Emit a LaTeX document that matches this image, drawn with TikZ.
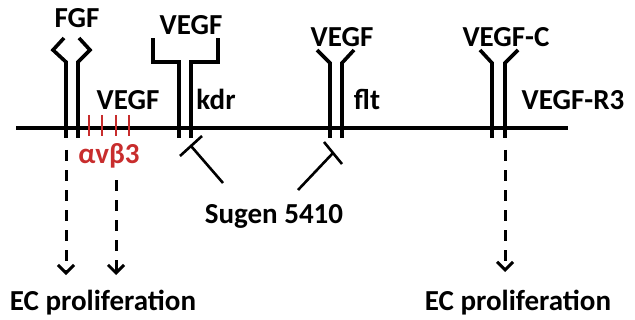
\documentclass[tikz,border=0pt]{standalone}
\usepackage{fontspec}
\setmainfont{Carlito}
\usetikzlibrary{arrows.meta}
\definecolor{intred}{RGB}{200,45,45}

\begin{document}
\begin{tikzpicture}[x=0.5pt,y=-0.5pt,
  lbl/.style={font=\bfseries\fontsize{14.5}{17}\selectfont,anchor=base,inner sep=0pt},
  rcp/.style={line width=1.8pt},
  sig/.style={line width=1.5pt,dash pattern=on 5.5pt off 4.5pt,
    -{Straight Barb[length=4pt,width=8pt]}},
  inh/.style={line width=1.3pt}]
  \useasboundingbox (0,0) rectangle (635,320);

  % 細胞膜
  \draw[rcp] (16,128)--(568,128);

  % FGF受容体
  \draw[rcp] (66,138)--(66,62)--(53,50)--(64,38);
  \draw[rcp] (78,138)--(78,62)--(90,50)--(79,38);
  \node[lbl] (fgf) at (77,28) {FGF};

  % インテグリン αvβ3
  \foreach \x in {89,102,116,129}
    \draw[intred,line width=1.4pt] (\x,115)--(\x,136);
  \node[lbl] (vegfA) at (128,110) {VEGF};
  \node[lbl,intred] (avb3) at (109,163) {αvβ3};

  % kdr
  \draw[rcp] (179,138)--(179,62)--(153,62)--(153,38);
  \draw[rcp] (191,138)--(191,62)--(218,62)--(218,38);
  \node[lbl] (vegfB) at (191,35) {VEGF};
  \node[lbl] (kdr) at (216,110) {kdr};

  % flt
  \draw[rcp] (330,138)--(330,63)--(317,50);
  \draw[rcp] (342,138)--(342,63)--(354,50);
  \node[lbl] (vegfC) at (342,47) {VEGF};
  \node[lbl] (flt) at (367,110) {flt};

  % VEGF-R3
  \draw[rcp] (492,138)--(492,63)--(480,50);
  \draw[rcp] (505,138)--(505,63)--(518,50);
  \node[lbl] (vegfc) at (506,47) {VEGF-C};
  \node[lbl] (r3) at (573,110) {VEGF-R3};

  % 阻害剤
  \node[lbl] (sugen) at (274,223) {Sugen 5410};
  \coordinate (kdrT) at (191,146);
  \coordinate (fltT) at (333,153);
  \coordinate (sugenL) at (223,183);
  \coordinate (sugenR) at (298,190);
  \draw[inh] (180,156)--(202,136);
  \draw[inh] (324,142)--(342,164);
  \draw[inh] (sugenL)--(kdrT);
  \draw[inh] (sugenR)--(fltT);

  % シグナル
  \node[lbl] (ecL) at (103,310) {EC proliferation};
  \node[lbl] (ecR) at (518,310) {EC proliferation};
  \coordinate (fgfOut) at (66,150);
  \coordinate (avbOut) at (116,180);
  \coordinate (r3Out) at (505,150);
  \coordinate (ecLa) at (66,275);
  \coordinate (ecLb) at (116,275);
  \coordinate (ecRa) at (505,272);
  \draw[sig] (fgfOut)--(ecLa);
  \draw[sig] (avbOut)--(ecLb);
  \draw[sig] (r3Out)--(ecRa);
\end{tikzpicture}
\end{document}
